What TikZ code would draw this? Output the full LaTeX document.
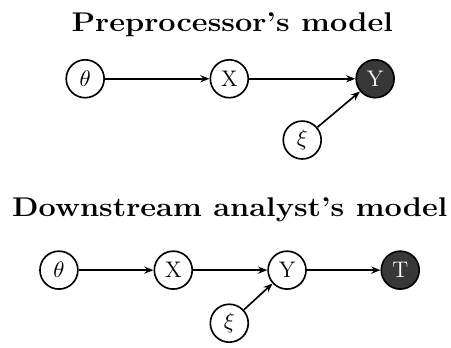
\documentclass[tikz,border=0pt]{standalone}
\usepackage{amsmath}
\usetikzlibrary{arrows.meta}

\begin{document}
\begin{tikzpicture}[
        var/.style={circle, draw, thick, minimum size=0.65cm, inner sep=0pt, font=\fontsize{11}{13}\selectfont},
        obs/.style={var, fill=black!78, text=white},
        edge/.style={-{Stealth[length=4.5pt,width=3.5pt]}, thick},
        title/.style={font=\fontsize{13.2}{16}\selectfont\bfseries, xscale=1.135}
    ]
        \useasboundingbox (0, 0) rectangle (7.73, -5.95);

        % Preprocessor's model
        \node[title] (t1) at (3.98, -0.43) {Preprocessor's model};
        \node[var] (theta1) at (1.46, -1.35) {$\theta$};
        \node[var] (x1) at (3.93, -1.35) {X};
        \node[obs] (y1) at (6.43, -1.35) {Y};
        \node[var] (xi1) at (5.18, -2.40) {$\xi$};

        \draw[edge] (theta1) -- (x1);
        \draw[edge] (x1) -- (y1);
        \draw[edge] (xi1) -- (y1);

        % Downstream analyst's model
        \node[title] (t2) at (3.94, -3.60) {Downstream analyst's model};
        \node[var] (theta2) at (1.01, -4.63) {$\theta$};
        \node[var] (x2) at (2.97, -4.63) {X};
        \node[var] (y2) at (4.92, -4.63) {Y};
        \node[obs] (t2v) at (6.86, -4.63) {T};
        \node[var] (xi2) at (3.93, -5.54) {$\xi$};

        \draw[edge] (theta2) -- (x2);
        \draw[edge] (x2) -- (y2);
        \draw[edge] (y2) -- (t2v);
        \draw[edge] (xi2) -- (y2);
    \end{tikzpicture}
\end{document}
